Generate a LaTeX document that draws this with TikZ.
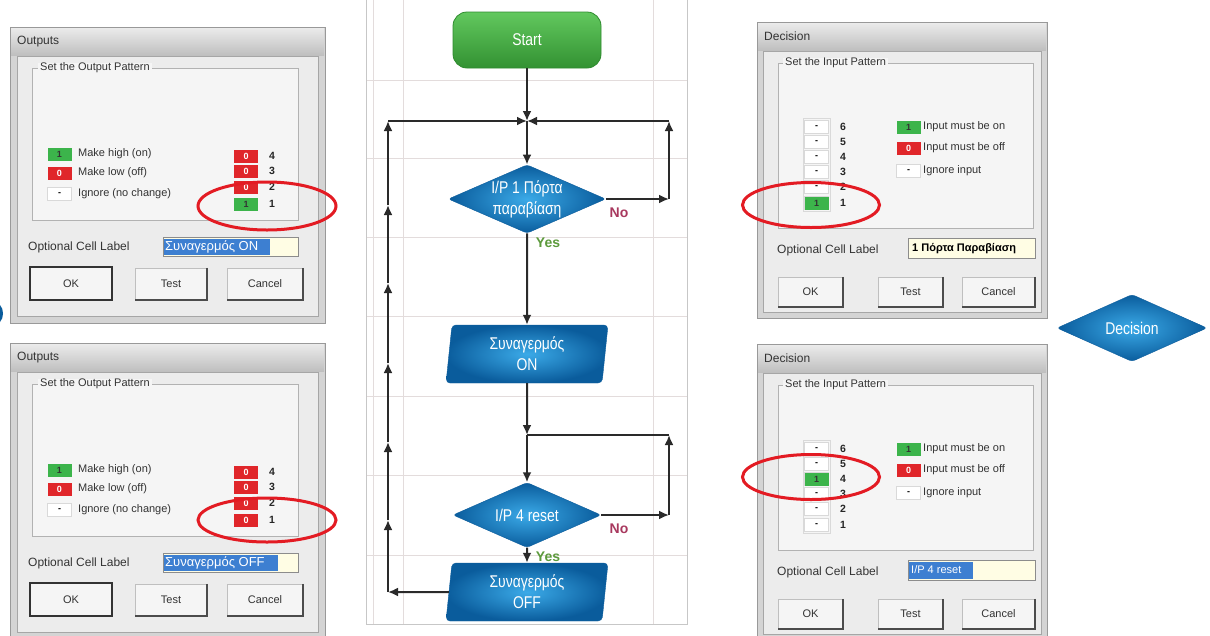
\documentclass[tikz,border=0pt]{standalone}
\usepackage{fontspec}
\setmainfont{Liberation Sans}
\newfontfamily\condfont[FakeStretch=0.82]{Liberation Sans}
\usetikzlibrary{shapes.geometric,arrows.meta}
\definecolor{cStart}{HTML}{4CB84A}
\definecolor{cStartL}{HTML}{62C85E}
\definecolor{cStartD}{HTML}{2E8B2E}
\definecolor{cBlueL}{HTML}{3BAAE8}
\definecolor{cBlueD}{HTML}{0A5C9C}
\definecolor{cLine}{HTML}{2A2A2A}
\definecolor{cGrid}{HTML}{E3DCDC}
\definecolor{cNo}{HTML}{A8385E}
\definecolor{cYes}{HTML}{5C9A3C}
\definecolor{cRed}{HTML}{E0262A}
\definecolor{cGreen}{HTML}{3CB44B}
\definecolor{cEll}{HTML}{E31B23}
\definecolor{cSel}{HTML}{3D7FD1}
\definecolor{cField}{HTML}{FFFDE4}
\definecolor{cFrame}{HTML}{D4D4D4}
\definecolor{cBody}{HTML}{ECECEC}
\definecolor{cGrp}{HTML}{F5F5F5}
\definecolor{cTxt}{HTML}{333333}
\tikzset{
 flowtxt/.style={text=white, font=\condfont\fontsize{17}{21}\selectfont, align=center},
 startbox/.style={rectangle, rounded corners=14pt, minimum width=148pt, minimum height=56pt, top color=cStartL, bottom color=cStartD!85!cStart, draw=cStartD, line width=0.8pt, flowtxt},
 decbox/.style={diamond, aspect=2.3, minimum width=148pt, minimum height=65pt, inner sep=0pt, rounded corners=3pt, inner color=cBlueL, outer color=cBlueD, draw=cBlueD, flowtxt},
 parabox/.style={trapezium, trapezium left angle=80, trapezium right angle=100, trapezium stretches body, minimum width=162pt, minimum height=58pt, inner sep=0pt, rounded corners=4pt, inner color=cBlueL, outer color=cBlueD, draw=cBlueD, flowtxt},
 flow/.style={draw=cLine, line width=2pt, -{Latex[length=10pt,width=9pt]}},
 flowplain/.style={draw=cLine, line width=2pt},
 yeslbl/.style={text=cYes, font=\bfseries\fontsize{14}{14}\selectfont},
 nolbl/.style={text=cNo, font=\bfseries\fontsize{14}{14}\selectfont},
 gridln/.style={draw=cGrid, line width=1pt},
 dlgtxt/.style={text=cTxt, font=\fontsize{11}{13}\selectfont, inner sep=0pt, anchor=west},
 bigtxt/.style={dlgtxt, font=\fontsize{12}{13}\selectfont},
 bit/.style={minimum width=24pt, minimum height=13pt, inner sep=0pt, font=\bfseries\fontsize{9}{9}\selectfont},
 bitg/.style={bit, fill=cGreen, text=black!80},
 bitr/.style={bit, fill=cRed, text=white},
 bitn/.style={bit, fill=white, draw=black!15, text=black},
 numlbl/.style={font=\bfseries\fontsize{10.5}{11}\selectfont, text=black!85, inner sep=0pt},
 ring/.style={ellipse, draw=cEll, line width=3pt, inner sep=0pt},
 btn/.style={rectangle, fill=black!4, draw=black!25, text=cTxt, font=\fontsize{11}{13}\selectfont},
 pics/outdlg/.style n args={4}{code={
  \draw[draw=black!40, fill=cFrame] (10,27) rectangle (325,323);
  \shade[top color=black!8, bottom color=black!25] (11,28) rectangle (324,55);
  \node[bigtxt] (-title) at (17,42) {Outputs};
  \draw[draw=black!35, fill=cBody] (17,56) rectangle (318,316);
  \draw[draw=black!30, fill=cGrp] (32,68) rectangle (298,220);
  \node[dlgtxt, fill=cGrp, inner xsep=2pt] (-grp) at (38,68) {Set the Output Pattern};
  \node[bitg] (-lg) at (59.5,154) {1}; \node[dlgtxt] (-lgt) at (78,154) {Make high (on)};
  \node[bitr] (-lr) at (59.5,173) {0}; \node[dlgtxt] (-lrt) at (78,173) {Make low (off)};
  \node[bitn] (-ln) at (59.5,194) {-}; \node[dlgtxt] (-lnt) at (78,194) {Ignore (no change)};
  \node[bitr] (-b4) at (246,156) {0}; \node[numlbl] (-n4) at (272,156) {4};
  \node[bitr] (-b3) at (246,171) {0}; \node[numlbl] (-n3) at (272,171) {3};
  \node[bitr] (-b2) at (246,187) {0}; \node[numlbl] (-n2) at (272,187) {2};
  \node[#1] (-b1) at (246,204) {#2}; \node[numlbl] (-n1) at (272,204) {1};
  \node[bigtxt] (-ocl) at (28,247) {Optional Cell Label};
  \draw[fill=cField, draw=black!45] (163,237) rectangle (298,256);
  \fill[cSel] (164,238.5) rectangle (#4,254.5);
  \node[anchor=west, inner sep=0pt, text=white, font=\fontsize{13}{14}\selectfont] (-fld) at (165,246.5) {#3};
  \node[btn, minimum width=82pt, minimum height=33pt, draw=black!80, line width=2pt] (-ok) at (71,283.5) {OK};
  \node[btn, minimum width=72pt, minimum height=32pt] (-test) at (171,284) {Test};
  \node[btn, minimum width=76pt, minimum height=32pt] (-cancel) at (265,284) {Cancel};
  \draw[black!70, line width=1.5pt] (-test.north east) -- (-test.south east) -- (-test.south west);
  \draw[black!70, line width=1.5pt] (-cancel.north east) -- (-cancel.south east) -- (-cancel.south west);
 }},
 pics/decdlg/.style={code={
  \draw[draw=black!40, fill=cFrame] (757,22) rectangle (1047,318);
  \shade[top color=black!8, bottom color=black!25] (758,23) rectangle (1046,50);
  \node[bigtxt] (-title) at (764,36) {Decision};
  \draw[draw=black!35, fill=cBody] (763,51) rectangle (1041,312);
  \draw[draw=black!30, fill=cGrp] (778,63) rectangle (1033,228);
  \node[dlgtxt, fill=cGrp, inner xsep=2pt] (-grp) at (783,63) {Set the Input Pattern};
  \draw[black!15] (803,118) rectangle (830,211);
  \node[bitn] (-b6) at (816.5,127) {-}; \node[numlbl] (-n6) at (843,127) {6};
  \node[bitn] (-b5) at (816.5,142) {-}; \node[numlbl] (-n5) at (843,142) {5};
  \node[bitn] (-b4) at (816.5,157) {-}; \node[numlbl] (-n4) at (843,157) {4};
  \node[bitn] (-b3) at (816.5,172) {-}; \node[numlbl] (-n3) at (843,172) {3};
  \node[bitn] (-b2) at (816.5,187) {-}; \node[numlbl] (-n2) at (843,187) {2};
  \node[bitn] (-b1) at (816.5,203) {-}; \node[numlbl] (-n1) at (843,203) {1};
  \node[bitg] (-lg) at (908.5,127) {1}; \node[dlgtxt] (-lgt) at (923,127) {Input must be on};
  \node[bitr] (-lr) at (908.5,148) {0}; \node[dlgtxt] (-lrt) at (923,148) {Input must be off};
  \node[bitn] (-ln) at (908.5,171) {-}; \node[dlgtxt] (-lnt) at (923,171) {Ignore input};
  \node[bigtxt] (-ocl) at (777,250) {Optional Cell Label};
  \draw[fill=cField, draw=black!45] (908,238) rectangle (1035,258);
  \node[btn, minimum width=65pt, minimum height=30pt] (-ok) at (810.5,292) {OK};
  \node[btn, minimum width=65pt, minimum height=30pt] (-test) at (910.5,292) {Test};
  \node[btn, minimum width=73pt, minimum height=30pt] (-cancel) at (998.5,292) {Cancel};
  \draw[black!70, line width=1.5pt] (-ok.north east) -- (-ok.south east) -- (-ok.south west);
  \draw[black!70, line width=1.5pt] (-test.north east) -- (-test.south east) -- (-test.south west);
  \draw[black!70, line width=1.5pt] (-cancel.north east) -- (-cancel.south east) -- (-cancel.south west);
 }},
}
\begin{document}
\begin{tikzpicture}[x=1pt,y=-1pt]
\useasboundingbox (0,0) rectangle (1210,635);
\clip (0,0) rectangle (1210,635);
\fill[white] (0,0) rectangle (1210,635);
% flowchart panel
\fill[white] (366,0) rectangle (687,624);
\foreach \gy in {80,158,237,316,396,475,555} { \draw[gridln] (366,\gy) -- (687,\gy); }
\foreach \gx in {373,403,653} { \draw[gridln] (\gx,0) -- (\gx,624); }
\draw[black!22, line width=1pt] (366,0) -- (366,624) -- (687,624) -- (687,0);
% dialogs
\pic (o1) at (0,0) {outdlg={bitg}{1}{Συναγερμός ON}{270}};
\pic (o2) at (0,316) {outdlg={bitr}{0}{Συναγερμός OFF}{278}};
\pic (c1) at (0,0) {decdlg};
\pic (c2) at (0,322) {decdlg};
\node[bitg] (cg1) at (816.5,203) {1};
\node[bitg] (cg2) at (816.5,479) {1};
\begin{scope}
\clip (909,239) rectangle (1034,257);
\node[anchor=west, inner sep=0pt, text=black, font=\bfseries\fontsize{11}{12}\selectfont] (cf1) at (912,248.5) {1 Πόρτα Παραβίαση};
\end{scope}
\fill[cSel] (909,561.5) rectangle (973,578.5);
\node[anchor=west, inner sep=0pt, text=white, font=\fontsize{11}{12}\selectfont] (cf2) at (911,570) {I/P 4 reset};
% red rings
\node[ring, minimum width=138pt, minimum height=48pt] (e1) at (267,206) {};
\node[ring, minimum width=138pt, minimum height=44pt] (e2) at (267,520) {};
\node[ring, minimum width=137pt, minimum height=45pt] (e3) at (811,205) {};
\node[ring, minimum width=137pt, minimum height=45pt] (e4) at (811,477) {};
% flowchart
\node[startbox] (start) at (527,40) {Start};
\coordinate (j1) at (527,121);
\node[decbox] (d1) at (527,199) {I/P 1 Πόρτα\\παραβίαση};
\coordinate (r1) at (669,199);
\coordinate (r1t) at (669,121);
\coordinate (l1t) at (388,121);
\node[parabox] (p1) at (527,354) {Συναγερμός\\ON};
\coordinate (j2) at (527,435);
\node[decbox] (d2) at (527,515) {I/P 4 reset};
\coordinate (r2) at (669,515);
\coordinate (r2t) at (669,435);
\node[yeslbl] (yes2) at (548,557) {Yes};
\node[parabox] (p2) at (527,592) {Συναγερμός\\OFF};
\coordinate (lb) at (388,592);
\coordinate (la1) at (388,520);
\coordinate (la2) at (388,442);
\coordinate (la3) at (388,363);
\coordinate (la4) at (388,283);
\coordinate (la5) at (388,205);
\node[nolbl] (no1) at (619,213) {No};
\node[yeslbl] (yes1) at (548,243) {Yes};
\node[nolbl] (no2) at (619,529) {No};
\draw[flow] (start.south) -- (j1);
\draw[flow] (j1) -- (d1.north);
\draw[flow] (d1.east) -- (r1);
\draw[flow] (r1) -- (r1t);
\draw[flow] (r1t) -- (j1);
\draw[flow] (d1.south) -- (p1.north);
\draw[flow] (p1.south) -- (j2);
\draw[flow] (j2) -- (d2.north);
\draw[flow] (d2.east) -- (r2);
\draw[flow] (r2) -- (r2t);
\draw[flowplain] (r2t) -- (j2);
\draw[flow] (d2.south) -- (p2.north);
\draw[flow] (p2.west) -- (lb);
\draw[flow] (lb) -- (la1);
\draw[flow] (la1) -- (la2);
\draw[flow] (la2) -- (la3);
\draw[flow] (la3) -- (la4);
\draw[flow] (la4) -- (la5);
\draw[flow] (la5) -- (l1t);
\draw[flow] (l1t) -- (j1);
% right decision symbol
\node[decbox, minimum width=150pt, minimum height=67pt] (dec) at (1132,328) {Decision};
% left edge sliver
\fill[cBlueD] (0,305) .. controls (4,309) and (4,318) .. (0,322) -- cycle;
\end{tikzpicture}
\end{document}
